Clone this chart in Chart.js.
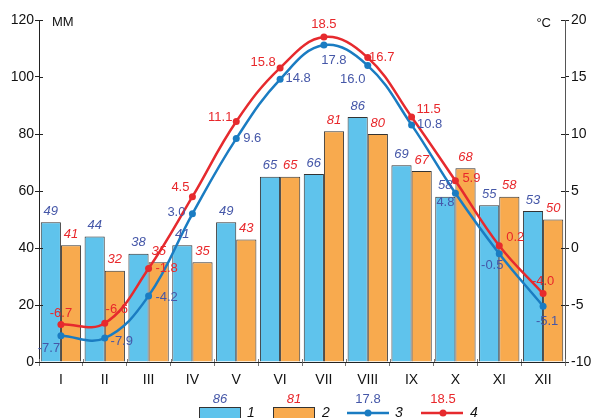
<!DOCTYPE html>
<html>
<head>
<meta charset="utf-8">
<script src="https://cdn.jsdelivr.net/npm/chart.js@4"></script>
<style>
html, body { margin: 0; padding: 0; background: #fff; }
#wrap { width: 593px; height: 418px; }
</style>
</head>
<body>
<div id="wrap"><canvas id="grafico" width="593" height="418"></canvas></div>
<script>
// DATA
var months = ['I','II','III','IV','V','VI','VII','VIII','IX','X','XI','XII'];
var precip1 = [49, 44, 38, 41, 49, 65, 66, 86, 69, 58, 55, 53];
var precip2 = [41, 32, 35, 35, 43, 65, 81, 80, 67, 68, 58, 50];
var temp3 = [-7.7, -7.9, -4.2, 3.0, 9.6, 14.8, 17.8, 16.0, 10.8, 4.8, -0.5, -5.1];
var temp4 = [-6.7, -6.6, -1.8, 4.5, 11.1, 15.8, 18.5, 16.7, 11.5, 5.9, 0.2, -4.0];
var mmTicks = [0, 20, 40, 60, 80, 100, 120];
var cTicks = [-10, -5, 0, 5, 10, 15, 20];

// label offsets next to the line points (dx, dy)
var off3 = [[-12,13],[17,3],[18,2],[-16,-1],[16,0],[18,-1],[10,15],[-15,14],[18,0],[-10,9],[-7,12],[4,15]];
var off4 = [[0,-11],[12,-14],[18,0],[-12,-9],[-16,-4],[-17,-5],[0,-13],[14,0],[17,-7],[16,-2],[16,-8],[0,-12]];

var BLUE_BAR = '#5fc3ec', ORANGE_BAR = '#f8aa4e';
var BLUE_LINE = '#1a7cc2', RED_LINE = '#e62a2e';
var BLUE_TXT = '#4557a8', RED_TXT = '#e8272b';
var FONT = '"Liberation Sans", Arial, sans-serif';

var extras = {
  id: 'extras',
  afterDraw: function(chart) {
    var ctx = chart.ctx;
    var x = chart.scales.x, y = chart.scales.y, y1 = chart.scales.y1;
    ctx.save();
    // inner halves of the crossing ticks
    ctx.strokeStyle = '#222';
    ctx.lineWidth = 1;
    mmTicks.forEach(function(v) {
      var py = Math.round(y.getPixelForValue(v)) + 0.5;
      ctx.beginPath(); ctx.moveTo(x.left, py); ctx.lineTo(x.left + 4, py); ctx.stroke();
    });
    cTicks.forEach(function(v) {
      var py = Math.round(y1.getPixelForValue(v)) + 0.5;
      ctx.beginPath(); ctx.moveTo(x.right - 4, py); ctx.lineTo(x.right, py); ctx.stroke();
    });
    ctx.strokeStyle = '#777';
    for (var i = 0; i <= months.length; i++) {
      var px = Math.round(x.getPixelForValue(i - 0.5)) + 0.5;
      ctx.beginPath(); ctx.moveTo(px, y.bottom - 3); ctx.lineTo(px, y.bottom); ctx.stroke();
    }

    // value labels
    ctx.textAlign = 'center';
    ctx.textBaseline = 'middle';
    ctx.font = 'italic 13px ' + FONT;
    var m0 = chart.getDatasetMeta(0), m1 = chart.getDatasetMeta(1);
    m0.data.forEach(function(el, i) {
      ctx.fillStyle = BLUE_TXT;
      ctx.fillText(String(precip1[i]), el.x, el.y - 11);
    });
    m1.data.forEach(function(el, i) {
      ctx.fillStyle = RED_TXT;
      ctx.fillText(String(precip2[i]), el.x, el.y - 11);
    });
    ctx.font = '13px ' + FONT;
    var m2 = chart.getDatasetMeta(2), m3 = chart.getDatasetMeta(3);
    m2.data.forEach(function(el, i) {
      ctx.fillStyle = BLUE_TXT;
      ctx.fillText(temp3[i].toFixed(1), el.x + off3[i][0], el.y + off3[i][1]);
    });
    m3.data.forEach(function(el, i) {
      ctx.fillStyle = RED_TXT;
      ctx.fillText(temp4[i].toFixed(1), el.x + off4[i][0], el.y + off4[i][1]);
    });

    // axis units
    ctx.fillStyle = '#111';
    ctx.font = '13px ' + FONT;
    ctx.textAlign = 'left';
    ctx.fillText('MM', 52, 22);
    ctx.textAlign = 'right';
    ctx.fillText('°C', 551, 23);

    // legend
    var ly = 413;
    ctx.lineWidth = 1;
    ctx.strokeStyle = '#333';
    ctx.fillStyle = BLUE_BAR;
    ctx.fillRect(199.5, 407.5, 41, 14); ctx.strokeRect(199.5, 407.5, 41, 14);
    ctx.fillStyle = ORANGE_BAR;
    ctx.fillRect(273.5, 407.5, 41, 14); ctx.strokeRect(273.5, 407.5, 41, 14);
    ctx.lineWidth = 2.5;
    ctx.strokeStyle = BLUE_LINE;
    ctx.beginPath(); ctx.moveTo(347, ly); ctx.lineTo(389, ly); ctx.stroke();
    ctx.fillStyle = BLUE_LINE;
    ctx.beginPath(); ctx.arc(368, ly, 3.5, 0, Math.PI * 2); ctx.fill();
    ctx.strokeStyle = RED_LINE;
    ctx.beginPath(); ctx.moveTo(421, ly); ctx.lineTo(463, ly); ctx.stroke();
    ctx.fillStyle = RED_LINE;
    ctx.beginPath(); ctx.arc(443, ly, 3.5, 0, Math.PI * 2); ctx.fill();

    ctx.textAlign = 'center';
    ctx.font = 'italic 13px ' + FONT;
    ctx.fillStyle = BLUE_TXT; ctx.fillText(String(Math.max.apply(null, precip1)), 220, 399);
    ctx.fillStyle = RED_TXT; ctx.fillText(String(Math.max.apply(null, precip2)), 294, 399);
    ctx.font = '13px ' + FONT;
    ctx.fillStyle = BLUE_TXT; ctx.fillText(Math.max.apply(null, temp3).toFixed(1), 368, 399);
    ctx.fillStyle = RED_TXT; ctx.fillText(Math.max.apply(null, temp4).toFixed(1), 443, 399);
    ctx.fillStyle = '#111';
    ctx.font = 'italic 14px ' + FONT;
    ctx.fillText('1', 251, 413);
    ctx.fillText('2', 326, 413);
    ctx.fillText('3', 399, 413);
    ctx.fillText('4', 474, 413);
    ctx.restore();
  }
};

new Chart(document.getElementById('grafico'), {
  type: 'bar',
  data: {
    labels: months,
    datasets: [
      { type: 'bar', data: precip1, yAxisID: 'y', backgroundColor: BLUE_BAR, borderColor: '#333', borderWidth: 1, order: 3 },
      { type: 'bar', data: precip2, yAxisID: 'y', backgroundColor: ORANGE_BAR, borderColor: '#333', borderWidth: 1, order: 3 },
      { type: 'line', data: temp3, yAxisID: 'y1', borderColor: BLUE_LINE, backgroundColor: BLUE_LINE,
        borderWidth: 2.5, tension: 0.4, pointRadius: 3.5, pointBorderWidth: 0, order: 1 },
      { type: 'line', data: temp4, yAxisID: 'y1', borderColor: RED_LINE, backgroundColor: RED_LINE,
        borderWidth: 2.5, tension: 0.4, pointRadius: 3.5, pointBorderWidth: 0, order: 0 }
    ]
  },
  options: {
    responsive: false,
    animation: false,
    layout: { padding: { top: 20, left: 0, right: 0, bottom: 0 } },
    datasets: { bar: { categoryPercentage: 0.92, barPercentage: 1.0 } },
    plugins: { legend: { display: false }, tooltip: { enabled: false } },
    scales: {
      x: {
        offset: true,
        grid: { display: true, drawOnChartArea: false, offset: true, tickLength: 4, color: '#777' },
        border: { display: true, color: '#222', width: 1 },
        ticks: { color: '#111', font: { family: FONT, size: 14 }, padding: 6, maxRotation: 0 },
        afterFit: function(s) { s.height = 56; }
      },
      y: {
        position: 'left',
        min: 0, max: 120,
        afterBuildTicks: function(s) { s.ticks = mmTicks.map(function(v) { return { value: v }; }); },
        grid: { drawOnChartArea: false, tickLength: 4, color: '#222' },
        border: { display: true, color: '#222', width: 1 },
        ticks: { color: '#111', font: { family: FONT, size: 14 }, padding: 1 },
        afterFit: function(s) { s.width = 39; }
      },
      y1: {
        position: 'right',
        min: -10, max: 20,
        afterBuildTicks: function(s) { s.ticks = cTicks.map(function(v) { return { value: v }; }); },
        grid: { drawOnChartArea: false, tickLength: 4, color: '#222' },
        border: { display: true, color: '#555', width: 1 },
        ticks: { color: '#111', font: { family: FONT, size: 14 }, padding: 2 },
        afterFit: function(s) { s.width = 28; }
      }
    }
  },
  plugins: [extras]
});
</script>
</body>
</html>
